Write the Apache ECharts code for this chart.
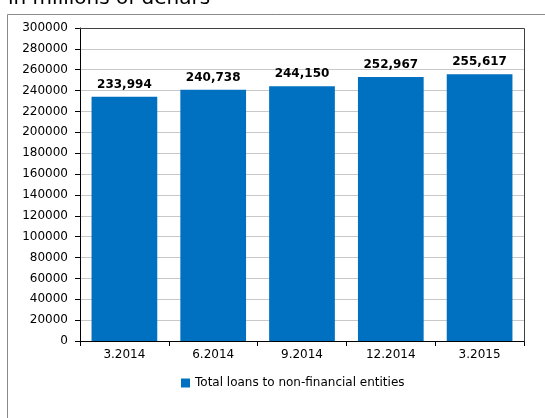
<!DOCTYPE html>
<html>
<head>
<meta charset="utf-8">
<script src="https://cdn.jsdelivr.net/npm/echarts@6/dist/echarts.min.js"></script>
<style>
  html, body { margin: 0; padding: 0; background: #fff; }
  #chart { width: 545px; height: 418px; }
</style>
</head>
<body>
<div id="chart"></div>
<script>
// Quarterly totals, millions of denars
const categories = ['3.2014', '6.2014', '9.2014', '12.2014', '3.2015'];
const loanValues = [233994, 240738, 244150, 252967, 255617];
const seriesName = 'Total loans to non-financial entities';
const unitTitle = 'in millions of denars';

const FONT = '"DejaVu Sans", Verdana, sans-serif';
const chart = echarts.init(document.getElementById('chart'), null, { renderer: 'canvas' });

chart.setOption({
  animation: false,
  backgroundColor: '#ffffff',
  graphic: [
    {
      type: 'rect',
      shape: { x: 7.5, y: 14.5, width: 560, height: 430 },
      style: { fill: 'none', stroke: '#8a8a8a', lineWidth: 1 },
      silent: true, z: 0
    },
    {
      type: 'text',
      x: 8, y: -1,
      style: { text: unitTitle, font: '20px ' + FONT, fill: '#000', verticalAlign: 'middle' },
      silent: true
    },
    {
      // frame on top/right of plot area
      type: 'polyline',
      shape: { points: [[79.5, 28.5], [524.5, 28.5], [524.5, 341.5]] },
      style: { stroke: '#404040', lineWidth: 1, fill: 'none' },
      silent: true, z: 5
    }
  ],
  grid: { left: 80, right: 21, top: 28, bottom: 77, containLabel: false },
  legend: {
    bottom: 24,
    left: 176,
    itemWidth: 9, itemHeight: 9, itemGap: 10,
    icon: 'rect',
    textStyle: { fontFamily: FONT, fontSize: 12, color: '#000' },
    data: [seriesName]
  },
  xAxis: {
    type: 'category',
    data: categories,
    axisLine: { lineStyle: { color: '#000', width: 1 } },
    axisTick: { show: true, length: 5, lineStyle: { color: '#000' } },
    axisLabel: { fontFamily: FONT, fontSize: 12, color: '#000', margin: 8 }
  },
  yAxis: {
    type: 'value',
    min: 0, max: 300000, interval: 20000,
    axisLine: { show: true, lineStyle: { color: '#000', width: 1 } },
    axisTick: { show: true, length: 5, lineStyle: { color: '#000' } },
    axisLabel: { fontFamily: FONT, fontSize: 12, color: '#000', margin: 12, formatter: v => String(v) },
    splitLine: { show: true, lineStyle: { color: '#c8c8c8', width: 1 } }
  },
  series: [{
    name: seriesName,
    type: 'bar',
    data: loanValues,
    barCategoryGap: '26%',
    itemStyle: { color: '#0070c0' },
    label: {
      show: true,
      position: 'top',
      distance: 6,
      fontFamily: FONT,
      fontWeight: 'bold',
      fontSize: 12,
      color: '#000',
      formatter: p => p.value.toLocaleString('en-US')
    }
  }]
});
</script>
</body>
</html>
